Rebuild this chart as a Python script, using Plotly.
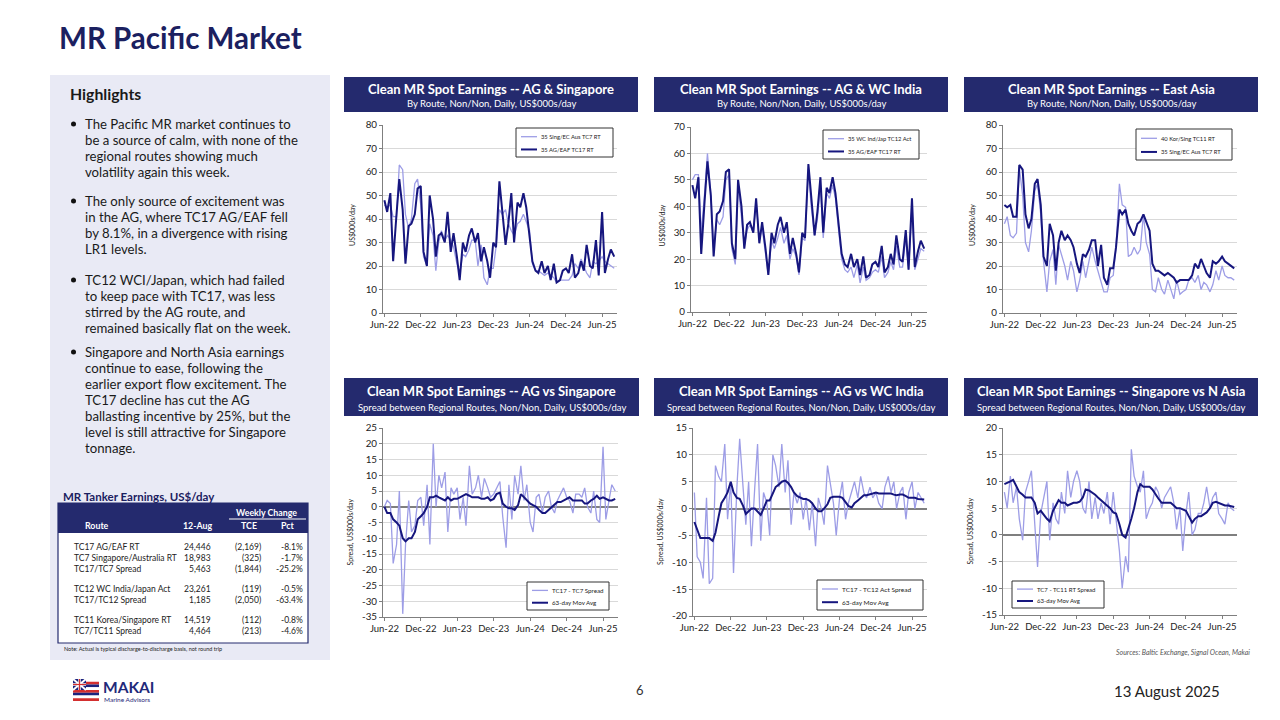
import plotly.graph_objects as go
import pandas as pd

# ---------------- DATA ----------------
dates = pd.date_range("2022-06-01", "2025-08-01", freq="SMS")  # semi-monthly readings

tc17 = [48, 43, 51, 22, 42, 57, 44, 21, 37, 38, 42, 53, 54, 26,
        20, 50, 40, 24, 33, 34, 30, 43, 26, 34, 24, 14, 30, 26, 33, 36, 30, 34, 22, 28, 22, 15, 30, 28,
        56, 44, 29, 38, 51, 30, 47, 45, 51, 45, 33, 22, 18, 17, 22, 17, 20, 14, 21, 13, 14, 18, 19, 17,
        25, 15, 17, 22, 18, 29, 20, 19, 31, 16, 43, 17, 23, 27, 24]
tc7 = [46, 45, 46, 41, 41, 63, 61, 42, 36, 40, 55, 57, 46, 24,
       20, 38, 33, 18, 30, 35, 31, 33, 31, 28, 21, 17, 25, 24, 27, 31, 31, 20, 29, 15, 12, 19, 19, 28,
       44, 42, 44, 38, 35, 33, 38, 39, 42, 39, 35, 21, 18, 18, 17, 16, 17, 16, 15, 13, 14, 14, 14, 14,
       16, 21, 19, 23, 20, 17, 15, 22, 21, 22, 24, 22, 21, 20, 19]
tc12 = [50, 52, 52, 30, 45, 60, 45, 24, 35, 33, 36, 50, 52, 24,
        18, 48, 36, 25, 31, 33, 30, 42, 27, 32, 22, 14, 27, 24, 28, 32, 26, 29, 20, 24, 21, 14, 28, 27,
        54, 40, 29, 35, 48, 28, 45, 43, 48, 43, 30, 20, 16, 15, 17, 13, 18, 11, 17, 12, 13, 15, 16, 15,
        21, 13, 15, 19, 16, 25, 17, 17, 28, 16, 40, 16, 20, 24, 23]
tc11 = [38, 41, 33, 32, 34, 62, 50, 30, 26, 35, 52, 55, 42, 22,
        9, 22, 27, 12, 29, 25, 20, 14, 22, 18, 9, 14, 22, 15, 23, 28, 22, 18, 13, 9, 9, 15, 16, 28,
        55, 46, 45, 24, 25, 28, 25, 27, 42, 30, 25, 10, 9, 15, 10, 8, 14, 10, 6, 14, 8, 9, 10, 14,
        15, 13, 16, 10, 13, 12, 9, 12, 18, 14, 20, 16, 15, 15, 14]

spread_17_7 = [0, 2, 1, -18, -12, 5, -34, -12, 2, -8, -6, 2, 3, -6,
               7, -12, 20, 0, 10, 6, 11, -8, 6, 4, 6, -4, 3, -6, 13, 4, 6, 10, 3, 9, 6, 3, 4, 6,
               8, -3, -13, 7, -4, 10, 4, 13, 2, 7, -5, -8, 3, 4, -2, 3, 5, 0, -2, 2, 4, 6, 3, 2,
               -2, 4, 4, 3, 6, 0, -2, 5, -4, -5, 19, -4, 2, 7, 5]
ma_17_7 = [0, -2, -2, -4, -5, -6, -10, -11, -10, -10, -8, -4, -3, -2,
           0, 3, 3, 3.5, 3, 2.5, 2, 3, 2, 2.5, 2.5, 3, 3.5, 4, 3.5, 3, 3, 3, 2.5, 2.5, 3, 2, 2.5, 4,
           4.5, 1, 0, -0.5, -0.5, -1, 0.5, 4, 3, 2, 1, 0.5, 0, -1, -2, -2, -1, 0, 1, 1.5, 1.5, 2, 2.5, 3,
           2, 2, 2, 2, 1, 1, 2, 2.5, 3.5, 2.5, 3, 2.5, 2, 2, 2.5]
spread_17_12 = [3, -9, -10, -13, 2, -14, -13, 8, 6, 5, 12, -2, 5, -12,
                4, 13, 4, -3, 5, -7, 4, 12, -6, 3, 1, -5, 10, 8, 4, 12, 3, 9, -3, 3, 1, 3, -2, 2,
                -4, 1, -7, 2, 0, -3, 8, 5, 1, -5, 2, 5, -2, 1, 3, 5, 2, 6, 3, 2, 4, 2, 3, 1,
                0, 4, 6, 3, 5, 0, 3, 4, -2, 3, 5, 0, 3, 2, 1]
ma_17_12 = [-2.5, -4, -5.5, -5.5, -5.5, -5.5, -6, -4.5, -1.5, 1, 2, 3, 5, 3,
            2, 1.8, 0.5, -1, -0.5, 0, 0, -0.5, -1.2, 0, 1.5, 1.5, 3, 4, 4.5, 5, 5.2, 4.8, 4, 3, 2.3, 2, 1.8, 1.8,
            1.5, 1, 0, -0.5, -0.5, 0, 0.8, 2, 2.2, 2.2, 2.2, 2, 1.2, 0.5, 0.2, 1, 1.5, 2, 2.5, 2.5, 2.6, 2.8, 3, 2.8,
            2.8, 2.8, 2.8, 2.8, 2.6, 2.5, 2.6, 2.6, 2.3, 2, 2, 2, 1.8, 1.8, 1.7]
spread_7_11 = [8, 5, 11, 6, 9, 3, -1, 8, 10, 12, 2, -6, 4, 7,
               10, -1, 6, 3, 2, 8, 4, 12, 7, 10, 12, 10, 5, 4, 10, 3, 7, 3, 6, 4, 8, 2, 8, 3,
               -3, -10, -4, -7, 16, 11, 9, 8, 12, 3, 5, 6, 9, 8, 5, 7, 8, 9, 6, 1, 5, -3, 4, 8,
               0, 1, 4, 4, 6, 9, 5, 7, 8, 4, 3, 2, 6, 5, 4.5]
ma_7_11 = [9.5, 9.7, 10, 10.3, 9, 8, 7.5, 7, 7, 7, 6, 4, 4.5, 3.8,
           3, 2.5, 4.5, 5.5, 6.5, 6, 6, 5.5, 5.8, 6, 6, 6.2, 7, 8.5, 8.3, 8, 7.5, 7, 6.5, 6, 5.5, 5, 4.2, 4,
           2, 0, -0.5, 1, 3, 5, 8, 9.5, 9, 9, 9, 8.5, 7.5, 6.8, 6, 6, 6, 6, 5.5, 5, 5, 4.8, 4.5, 3.5,
           2.3, 3, 3.5, 3.5, 3.8, 4.2, 5, 6, 6.2, 6, 5.8, 5.5, 5.5, 5.3, 5.2]

# Table data
routes = ["TC17 AG/EAF RT", "TC7 Singapore/Australia RT", "TC17/TC7 Spread",
          "TC12 WC India/Japan Act", "TC17/TC12 Spread",
          "TC11 Korea/Singapore RT", "TC7/TC11 Spread"]
route_group = [0, 0, 0, 1, 1, 2, 2]
latest = [24446, 18983, 5463, 23261, 1185, 14519, 4464]
tce_chg = [-2169, -325, -1844, -119, -2050, -112, -213]
pct_chg = [-8.1, -1.7, -25.2, -0.5, -63.4, -0.8, -4.6]

bullets = [
    ["The Pacific MR market continues to", "be a source of calm, with none of the",
     "regional routes showing much", "volatility again this week."],
    ["The only source of excitement was", "in the AG, where TC17 AG/EAF fell",
     "by 8.1%, in a divergence with rising", "LR1 levels."],
    ["TC12 WCI/Japan, which had failed", "to keep pace with TC17, was less",
     "stirred by the AG route, and", "remained basically flat on the week."],
    ["Singapore and North Asia earnings", "continue to ease, following the",
     "earlier export flow excitement. The", "TC17 decline has cut the AG",
     "ballasting incentive by 25%, but the", "level is still attractive for Singapore",
     "tonnage."],
]

# ---------------- LAYOUT HELPERS ----------------
W, H = 1280, 720
OFF = 8  # page body margin in the rendered page
def fx(x): return (x - OFF) / W
def fy(y): return 1 - (y - OFF) / H

FONT = "Lato"
HDR = "#242a6e"
TITLE_C = "#1b2060"
LIGHT = "#9d9de6"
DARK = "#16167e"
TXT = "#222222"

charts = [
    dict(title="Clean MR Spot Earnings -- AG & Singapore", sub="By Route, Non/Non, Daily, US$000s/day",
         series=[("35 Sing/EC Aus TC7 RT", tc7, LIGHT, 1.3), ("35 AG/EAF TC17 RT", tc17, DARK, 2.0)],
         yr=(0, 80), dt=10, yt="US$000s/day", plot=(383, 617, 125, 313), hdr=(344, 638, 77, 112),
         leg=(516, 128, 613, 157), lfs=5.8, ytx=352, zero=False),
    dict(title="Clean MR Spot Earnings -- AG & WC India", sub="By Route, Non/Non, Daily, US$000s/day",
         series=[("35 WC Ind/Jap TC12 Act", tc12, LIGHT, 1.3), ("35 AG/EAF TC17 RT", tc17, DARK, 2.0)],
         yr=(0, 70), dt=10, yt="US$000s/day", plot=(691, 927, 127, 312), hdr=(654, 948, 77, 112),
         leg=(823, 130, 919, 159), lfs=5.8, ytx=662, zero=False),
    dict(title="Clean MR Spot Earnings -- East Asia", sub="By Route, Non/Non, Daily, US$000s/day",
         series=[("40 Kor/Sing TC11 RT", tc11, LIGHT, 1.3), ("35 Sing/EC Aus TC7 RT", tc7, DARK, 2.0)],
         yr=(0, 80), dt=10, yt="US$000s/day", plot=(1003, 1237, 125, 313), hdr=(964, 1258, 77, 112),
         leg=(1136, 129, 1232, 160), lfs=5.8, ytx=972, zero=False),
    dict(title="Clean MR Spot Earnings -- AG vs Singapore",
         sub="Spread between Regional Routes, Non/Non, Daily, US$000s/day",
         series=[("TC17 - TC7 Spread", spread_17_7, LIGHT, 1.3), ("63-day Mov Avg", ma_17_7, DARK, 2.0)],
         yr=(-35, 25), dt=5, yt="Spread, US$000s/day", plot=(383, 618, 428, 617), hdr=(344, 639, 378, 416),
         leg=(527, 582, 609, 610), lfs=6.2, ytx=350, zero=True),
    dict(title="Clean MR Spot Earnings -- AG vs WC India",
         sub="Spread between Regional Routes, Non/Non, Daily, US$000s/day",
         series=[("TC17 - TC12 Act Spread", spread_17_12, LIGHT, 1.3), ("63-day Mov Avg", ma_17_12, DARK, 2.0)],
         yr=(-20, 15), dt=5, yt="Spread, US$000s/day", plot=(693, 927, 428, 616), hdr=(654, 948, 378, 416),
         leg=(817, 580, 923, 610), lfs=6.5, ytx=660, zero=True),
    dict(title="Clean MR Spot Earnings -- Singapore vs N Asia",
         sub="Spread between Regional Routes, Non/Non, Daily, US$000s/day",
         series=[("TC7 - TC11 RT Spread", spread_7_11, LIGHT, 1.3), ("63-day Mov Avg", ma_7_11, DARK, 2.0)],
         yr=(-15, 20), dt=5, yt="Spread, US$000s/day", plot=(1003, 1237, 428, 615), hdr=(964, 1258, 378, 416),
         leg=(1012, 581, 1104, 608), lfs=6.0, ytx=970, zero=True),
]

fig = go.Figure()
layout = dict(width=W, height=H, margin=dict(l=0, r=0, t=0, b=0, pad=0, autoexpand=False), autosize=False,
              paper_bgcolor="white", plot_bgcolor="white",
              font=dict(family=FONT, color=TXT), showlegend=False)
shapes = []
annotations = []

def ann(x, y, text, size, color=TXT, xanchor="left", bold=False, italic=False, angle=0, yanchor="middle"):
    t = text
    if bold:
        t = "<b>" + t + "</b>"
    if italic:
        t = "<i>" + t + "</i>"
    annotations.append(dict(x=fx(x), y=fy(y), xref="paper", yref="paper", text=t, showarrow=False,
                            xanchor=xanchor, yanchor=yanchor, textangle=angle,
                            font=dict(family=FONT, size=size, color=color)))

def rect(x0, y0, x1, y1, fill, line=None, lw=0, layer="below"):
    shapes.append(dict(type="rect", xref="paper", yref="paper", x0=fx(x0), x1=fx(x1), y0=fy(y1), y1=fy(y0),
                       fillcolor=fill, line=dict(color=line or fill, width=lw), layer=layer))

def seg(x0, y0, x1, y1, color, w):
    shapes.append(dict(type="line", xref="paper", yref="paper", x0=fx(x0), x1=fx(x1), y0=fy(y0), y1=fy(y1),
                       line=dict(color=color, width=w), layer="above"))

for n, c in enumerate(charts, start=1):
    sx = "" if n == 1 else str(n)
    x0, x1, y0, y1 = c["plot"]
    for name, vals, col, w in c["series"]:
        fig.add_trace(go.Scatter(x=dates, y=vals, mode="lines", name=name,
                                 line=dict(color=col, width=w), xaxis="x" + sx, yaxis="y" + sx))
    tv = list(range(c["yr"][0], c["yr"][1] + 1, c["dt"]))
    layout["xaxis" + sx] = dict(domain=[fx(x0), fx(x1)], anchor="y" + sx, type="date", automargin=False,
                                range=["2022-05-25", "2025-08-15"], dtick="M6", tick0="2022-06-01",
                                tickformat="%b-%y", showline=True, linecolor="#7f7f7f", linewidth=1,
                                ticks="outside", ticklen=3, tickcolor="#7f7f7f", showgrid=False,
                                tickfont=dict(family=FONT, size=9.5, color=TXT), fixedrange=True)
    layout["yaxis" + sx] = dict(domain=[fy(y1), fy(y0)], anchor="x" + sx, range=list(c["yr"]), automargin=False,
                                tickvals=tv, ticktext=[str(v) for v in tv],
                                showline=True, linecolor="#7f7f7f", linewidth=1, ticks="outside",
                                ticklen=3, tickcolor="#7f7f7f", showgrid=True, gridcolor="#d9d9d9",
                                gridwidth=1, zeroline=c["zero"], zerolinecolor="#7f7f7f", zerolinewidth=1.5,
                                tickfont=dict(family=FONT, size=9.8, color=TXT), fixedrange=True)
    # custom legend box drawn from the series names
    lx0, ly0, lx1, ly1 = c["leg"]
    rect(lx0, ly0, lx1, ly1, "white", line="#333333", lw=1, layer="above")
    rows = [ly0 + (ly1 - ly0) * 0.3, ly0 + (ly1 - ly0) * 0.74]
    for (name, vals, col, w), ry in zip(c["series"], rows):
        seg(lx0 + 5, ry, lx0 + 21, ry, col, w)
        ann(lx0 + 23, ry, name, c["lfs"], TXT)
    # header
    hx0, hx1, hy0, hy1 = c["hdr"]
    rect(hx0, hy0, hx1, hy1, HDR)
    cx = (hx0 + hx1) / 2
    top = hy0 < 200
    ann(cx, hy0 + (12 if top else 13), c["title"], 13, "white", "center", bold=True)
    ann(cx, hy0 + (27 if top else 29), c["sub"], 9.5, "white", "center")
    # y-axis title
    ann(c["ytx"], (y0 + y1) / 2 + (6 if top else 10), c["yt"], 7, TXT, "center", angle=-90)

# ---------------- PAGE TEXT ----------------
ann(57, 38, "MR Pacific Market", 29.5, TITLE_C, bold=True)

# left panel
rect(50, 75, 330, 660, "#e9eaf5")
ann(68, 93, "Highlights", 15.8, "#1a1a1a", bold=True)
starts = [124, 201, 280, 352]
for b, lines in enumerate(bullets):
    yb = starts[b]
    shapes.append(dict(type="circle", xref="paper", yref="paper", x0=fx(71), x1=fx(76),
                       y0=fy(yb + 2.5), y1=fy(yb - 2.5), fillcolor="#111111",
                       line=dict(color="#111111", width=0)))
    for k, line in enumerate(lines):
        ann(83, yb + 16 * k, line, 13.2, "#1a1a1a")

# table
ann(61, 496, "MR Tanker Earnings, US$/day", 11.5, TITLE_C, bold=True)
rect(58, 503, 308, 643, "white", line=HDR, lw=1.2)
rect(58, 503, 308, 533, HDR)
ann(266, 513, "Weekly Change", 8.8, "white", "center", bold=True)
seg(229, 519, 306, 519, "white", 1)
ann(97, 525, "Route", 8.8, "white", "center", bold=True)
ann(197, 525, "12-Aug", 8.8, "white", "center", bold=True)
ann(249, 525, "TCE", 8.8, "white", "center", bold=True)
ann(287, 525, "Pct", 8.8, "white", "center", bold=True)
row_y = 547
prev_g = 0
for i in range(len(routes)):
    if route_group[i] != prev_g:
        row_y += 9.5
        prev_g = route_group[i]
    t = tce_chg[i]
    tstr = "({:,})".format(-t) if t < 0 else "{:,}".format(t)
    ann(72, row_y, routes[i], 8.5, TXT)
    ann(213, row_y, "{:,}".format(latest[i]), 8.5, TXT, "right")
    ann(263, row_y, tstr, 8.5, TXT, "right")
    ann(305, row_y, "{:.1f}%".format(pct_chg[i]), 8.5, TXT, "right")
    row_y += 10.8
ann(62, 649, "Note: Actual is typical discharge-to-discharge basis, not round trip", 5.5, TXT)

# sources
ann(1252, 652, "Sources: Baltic Exchange, Signal Ocean, Makai", 7, "#555555", "right", italic=True)

# footer logo (Hawaiian-flag style mark)
stripe_cols = ["white", "#d32f2f", "#1a237e", "white", "#d32f2f", "#1a237e", "white", "#d32f2f"]
for k, col in enumerate(stripe_cols):
    rect(73, 679 + k * 2.75, 99, 679 + (k + 1) * 2.75, col, layer="above")
rect(73, 679, 86, 690, "#1a237e", layer="above")
seg(73, 679, 86, 690, "white", 2)
seg(73, 690, 86, 679, "white", 2)
seg(73, 684.5, 86, 684.5, "white", 2.5)
seg(79.5, 679, 79.5, 690, "white", 2.5)
seg(73, 684.5, 86, 684.5, "#d32f2f", 1.2)
seg(79.5, 679, 79.5, 690, "#d32f2f", 1.2)
ann(101, 687, "MAKAI", 15.5, "#1f2a7a", bold=True)
ann(102, 699, "Marine Advisors", 6.5, "#1f2a7a")

ann(640, 690, "6", 13, "#333333", "center")
ann(1222, 691, "13 August 2025", 15, "#222222", "right")

layout["shapes"] = shapes
layout["annotations"] = annotations
fig.update_layout(**layout)
fig.write_html("out.html")
